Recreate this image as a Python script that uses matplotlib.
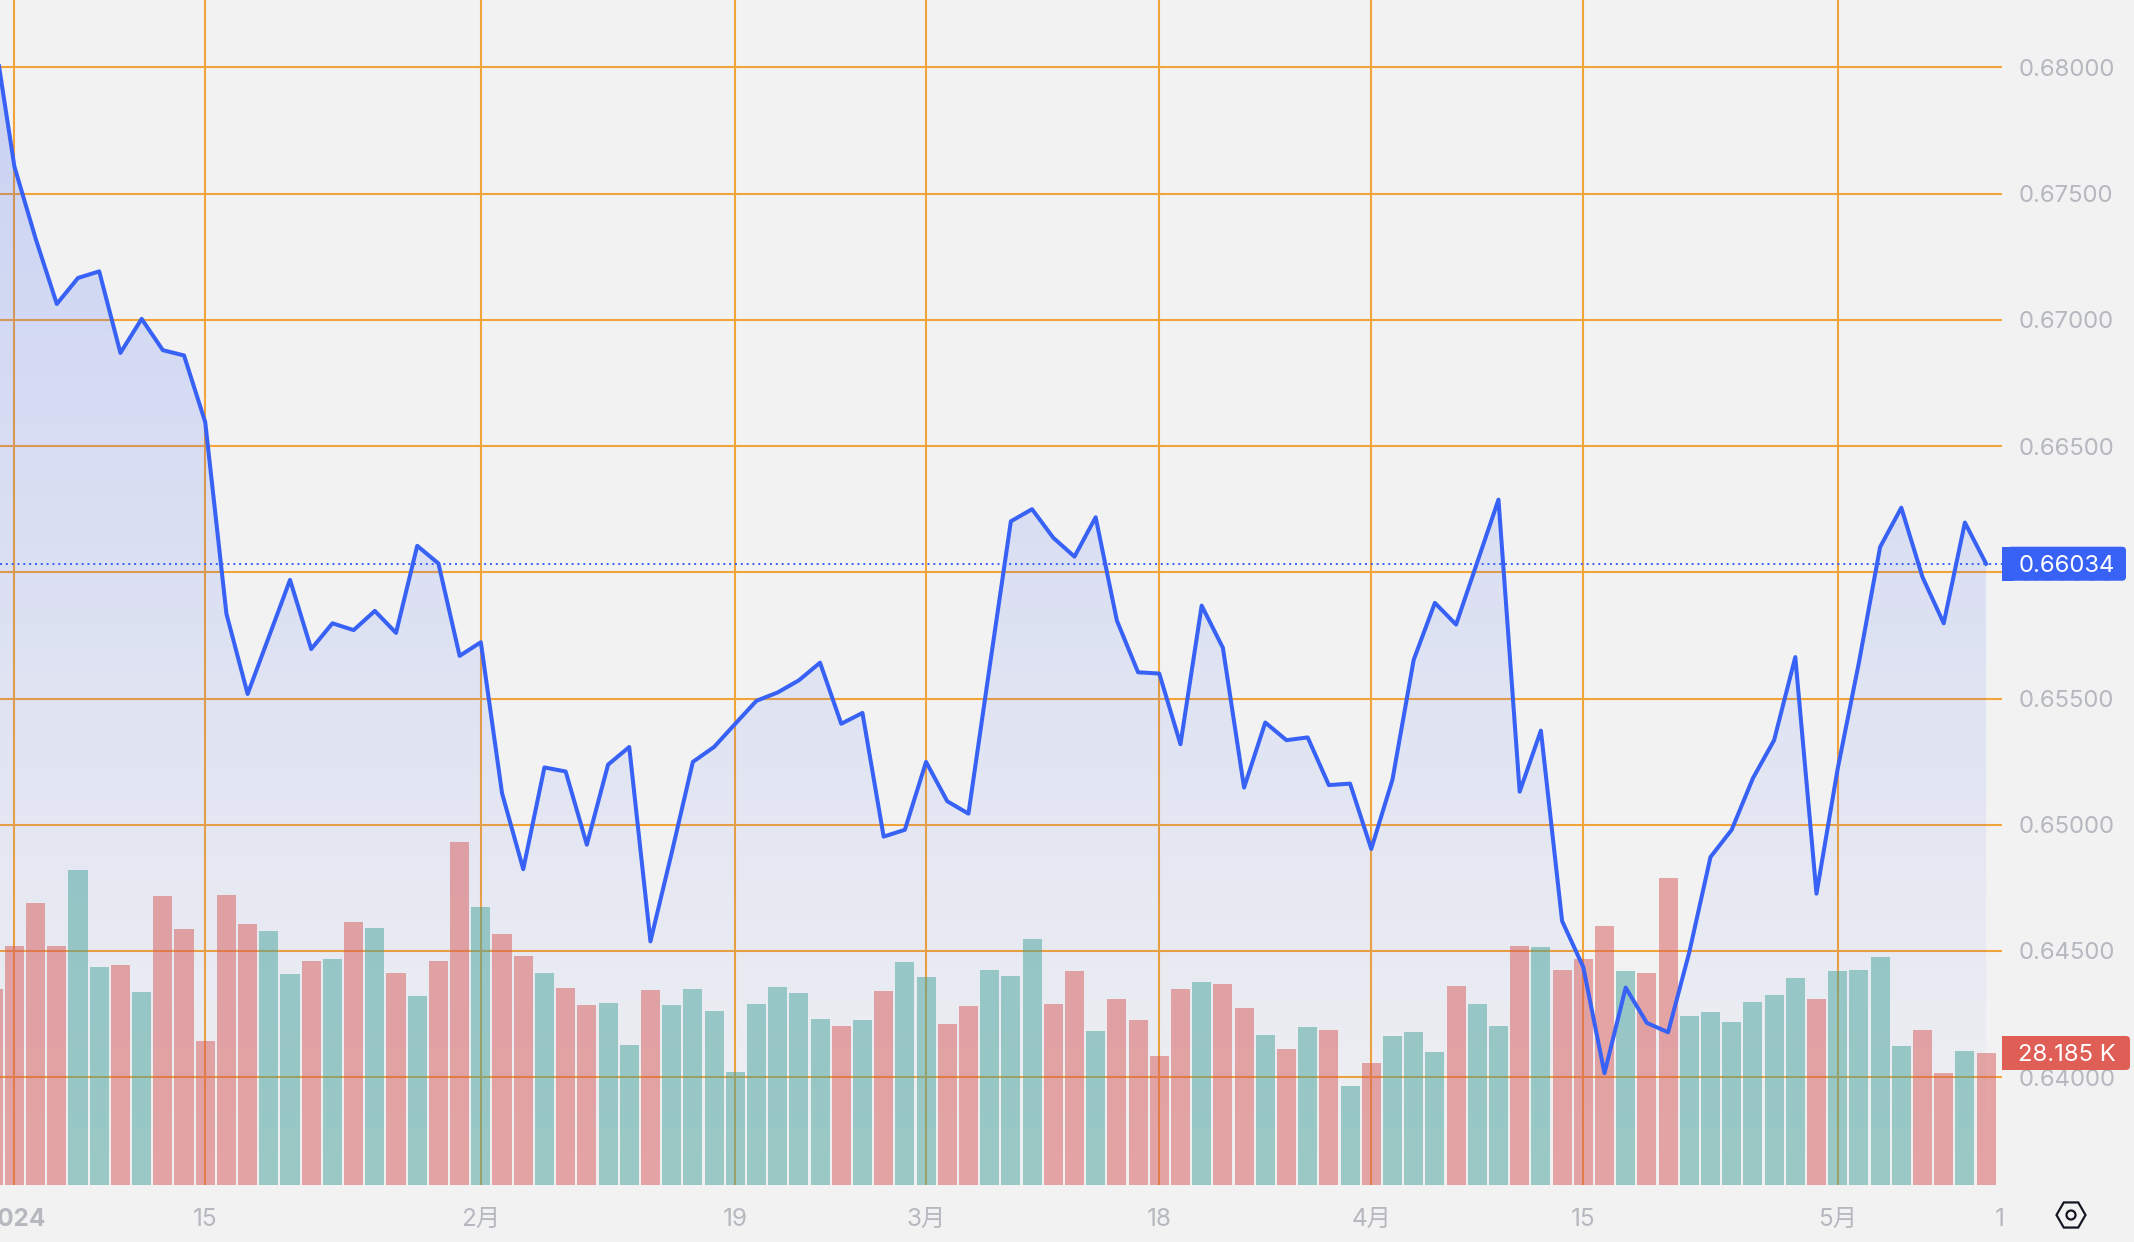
import numpy as np
import matplotlib
matplotlib.use("Agg")
import matplotlib.pyplot as plt
from matplotlib.patches import FancyBboxPatch, Rectangle, RegularPolygon, Circle, Polygon
from matplotlib.colors import to_rgb

# first value sits just left of the visible window
price = [
    0.68154, 0.67607, 0.67322, 0.67063, 0.67166, 0.67192, 0.66869, 0.67004, 0.66880, 0.66859,
    0.66595, 0.65836, 0.65518, 0.65744, 0.65970, 0.65696, 0.65798, 0.65771, 0.65847, 0.65760,
    0.66105, 0.66035, 0.65669, 0.65723, 0.65125, 0.64824, 0.65227, 0.65211, 0.64921, 0.65238,
    0.65308, 0.64538, 0.64888, 0.65249, 0.65308, 0.65400, 0.65491, 0.65524, 0.65572, 0.65642,
    0.65400, 0.65443, 0.64953, 0.64980, 0.65249, 0.65093, 0.65044, 0.65626, 0.66202, 0.66250,
    0.66137, 0.66062, 0.66218, 0.65809, 0.65604, 0.65599, 0.65319, 0.65868, 0.65701, 0.65147,
    0.65405, 0.65335, 0.65346, 0.65157, 0.65163, 0.64904, 0.65179, 0.65653, 0.65879, 0.65793,
    0.66040, 0.66288, 0.65131, 0.65373, 0.64619, 0.64436, 0.64016, 0.64355, 0.64215, 0.64178,
    0.64495, 0.64872, 0.64980, 0.65184, 0.65335, 0.65664, 0.64727, 0.65222, 0.65642, 0.66100,
    0.66256, 0.65981, 0.65798, 0.66197, 0.66034,
]
# thousands
volume = [
    41.85, 51.03, 60.21, 51.03, 67.26, 46.55, 46.97, 41.21, 61.70, 54.66,
    30.75, 61.92, 55.73, 54.23, 45.05, 47.83, 48.25, 56.15, 54.87, 45.26,
    40.35, 47.83, 73.23, 59.36, 53.59, 48.89, 45.26, 42.06, 38.43, 38.86,
    29.89, 41.63, 38.43, 41.85, 37.15, 24.13, 38.65, 42.28, 40.99, 35.44,
    33.95, 35.23, 41.42, 47.61, 44.41, 34.38, 38.22, 45.90, 44.62, 52.52,
    38.65, 45.69, 32.88, 39.71, 35.23, 27.54, 41.85, 43.34, 42.92, 37.79,
    32.03, 29.04, 33.73, 33.09, 21.14, 26.05, 31.81, 32.67, 28.40, 42.49,
    38.65, 33.95, 51.03, 50.82, 45.90, 48.25, 55.30, 45.69, 45.26, 65.55,
    36.08, 36.94, 34.80, 39.07, 40.57, 44.20, 39.71, 45.69, 45.90, 48.68,
    29.68, 33.09, 23.91, 28.61, 28.185,
]
# r = red bar, g = teal bar
vol_side = [
    "r", "r", "r", "r", "g", "g", "r", "g", "r", "r", "r", "r", "r", "g", "g", "r", "g", "r", "g", "r",
    "g", "r", "r", "g", "r", "r", "g", "r", "r", "g", "g", "r", "g", "g", "g", "g", "g", "g", "g", "g",
    "r", "g", "r", "g", "g", "r", "r", "g", "g", "g", "r", "r", "g", "r", "r", "r", "r", "g", "r", "r",
    "g", "r", "g", "r", "g", "r", "g", "g", "g", "r", "g", "g", "r", "g", "r", "r", "r", "g", "r", "r",
    "g", "g", "g", "g", "g", "g", "r", "g", "g", "g", "g", "r", "r", "g", "r",
]

price_ticks = [0.64, 0.645, 0.65, 0.655, 0.66, 0.665, 0.67, 0.675, 0.68]
time_ticks = [0, 9, 22, 34, 43, 54, 64, 74, 86, 93.63]
time_labels = ["2024", "15", "2月", "19", "3月", "18", "4月", "15", "5月", "1"]
last_price = 0.66034
last_volume = 28.185

BG = "#f2f2f2"
GRID = "#f2a33a"
BLUE = "#3861f6"
RED = "#d85858"
TEAL = "#44a29a"
TICK = "#b5b8be"
FONT = ["Inter", "Noto Sans CJK SC", "DejaVu Sans"]

W, H = 2134, 1242
XLIM = (-0.68, 93.75)
YLIM = (0.63573, 0.68267)
plt.rcParams["font.family"] = FONT

fig = plt.figure(figsize=(W / 100, H / 100), dpi=100, facecolor=BG)
rect = [0, (H - 1185) / H, 2002 / W, 1185 / H]

ax = fig.add_axes(rect, facecolor=BG, zorder=1)
x = np.arange(len(price)) - 1

ax.set_yticks(price_ticks)
ax.set_yticklabels([f"{t:.5f}" for t in price_ticks])
ax.yaxis.tick_right()
ax.set_xticks(time_ticks)
ax.set_xticklabels(time_labels)
ax.tick_params(axis="y", length=0, pad=12, labelsize=17.2, labelcolor=TICK)
ax.tick_params(axis="x", length=0, pad=16.5, labelsize=17.5, labelcolor=TICK)
ax.get_xticklabels()[0].set_fontweight("bold")
for s in ax.spines.values():
    s.set_visible(False)

ax.grid(True, color=GRID, linewidth=1.5)
ax.set_axisbelow(True)
# the last label is not a real gridline
ax.get_xgridlines()[-1].set_visible(False)

# area under the line, fading downwards
rgb = to_rgb(BLUE)
grad = np.zeros((256, 2, 4))
grad[..., :3] = rgb
grad[..., 3] = np.linspace(0.23, 0.01, 256)[:, None]
im = ax.imshow(grad, aspect="auto", origin="upper", zorder=2,
               extent=[x[0], x[-1], YLIM[0], YLIM[1]])
poly = Polygon(np.column_stack([np.r_[x[0], x, x[-1]], np.r_[YLIM[0], price, YLIM[0]]]),
               closed=True, transform=ax.transData, facecolor="none", edgecolor="none")
ax.add_patch(poly)
im.set_clip_path(poly)
ax.set_xlim(*XLIM)
ax.set_ylim(*YLIM)

# volume pane shares the area, with its own scale
vol_ax = fig.add_axes(rect, facecolor="none", zorder=2)
vol_ax.set_xlim(*XLIM)
vol_ax.set_ylim(0, 253)
vol_ax.axis("off")
colors = [RED if s == "r" else TEAL for s in vol_side]
vol_ax.bar(x, volume, width=0.9, color=colors, alpha=0.5, linewidth=0)

vol_ax.plot(x, price, color=BLUE, linewidth=2.9, solid_joinstyle="round",
            transform=ax.transData, zorder=5)
vol_ax.plot(XLIM, [last_price, last_price], color=BLUE, linewidth=1.4,
            linestyle=(0, (1, 2)), transform=ax.transData, zorder=4)


def value_label(y_px, x_right, color, text):
    # box flush with the plot on the left, rounded on the right
    x0, h = 2002, 34
    y0 = H - y_px - h / 2
    fig.add_artist(FancyBboxPatch((x0 + 8, y0 + 3), x_right - x0 - 11, h - 6,
                                  boxstyle="round,pad=3,rounding_size=4",
                                  transform=None, facecolor=color, edgecolor="none", zorder=10))
    fig.add_artist(Rectangle((x0, y0), 12, h, transform=None, facecolor=color,
                             edgecolor="none", zorder=10))
    fig.text(2018.5 / W, 1 - y_px / H, text, color="white", fontsize=17.2, va="center_baseline",
             ha="left", zorder=11)


fig.canvas.draw()
price_y = H - ax.transData.transform((0, last_price))[1]
vol_y = H - vol_ax.transData.transform((0, last_volume))[1]
value_label(price_y, 2126, BLUE, f"{last_price:.5f}")
value_label(vol_y, 2130, "#df5e56", f"{last_volume:.3f} K")

# settings icon
fig.add_artist(RegularPolygon((2071, H - 1215), 6, radius=14.5, orientation=np.pi / 6, transform=None,
                              facecolor="none", edgecolor="#131722", linewidth=1.6, zorder=10))
fig.add_artist(Circle((2071, H - 1215), 4.5, transform=None, facecolor="none",
                      edgecolor="#131722", linewidth=1.6, zorder=10))

fig.savefig("out.png", dpi=100, facecolor=BG)
